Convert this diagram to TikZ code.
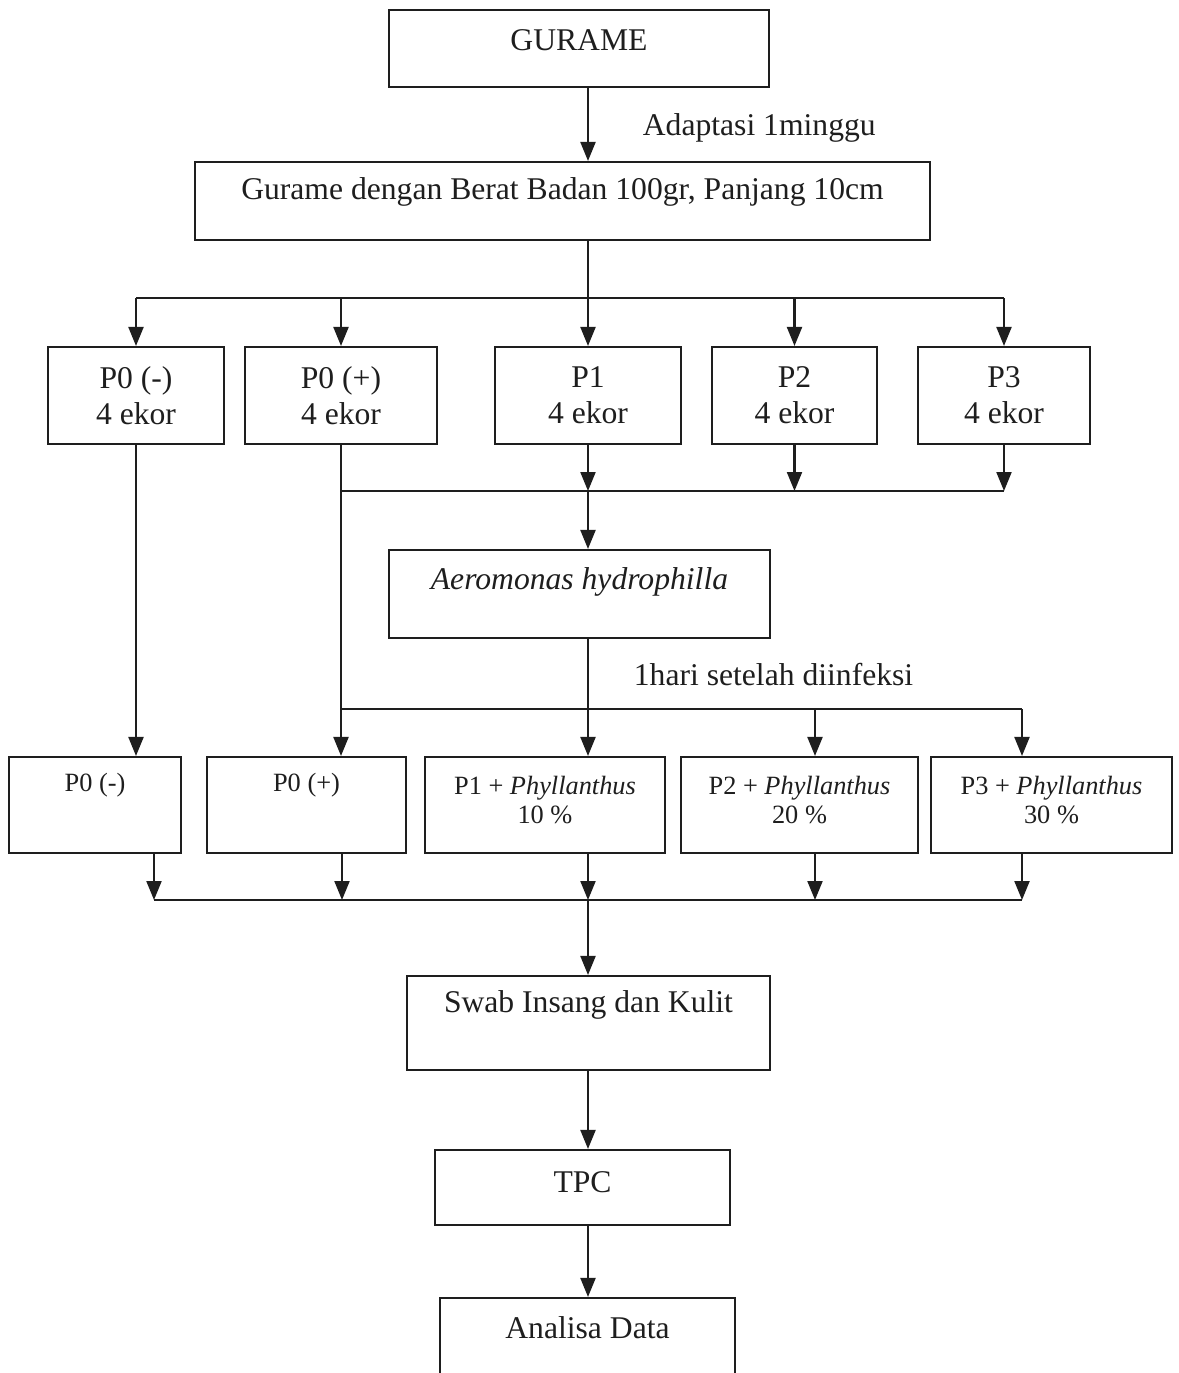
\documentclass[tikz,border=0pt]{standalone}
\usepackage{fontspec}
\setmainfont{Liberation Serif}
\usetikzlibrary{arrows.meta}
\definecolor{ink}{HTML}{1E1E1E}

\begin{document}
\begin{tikzpicture}[x=0.02cm,y=-0.02cm,>={Triangle[length=.38cm,width=.3cm]},
 font=\fontsize{18}{20.5}\selectfont,line width=1.2pt,ink,
 box/.style={draw,inner sep=0pt,align=center},
 small/.style={font=\fontsize{15}{17}\selectfont}]
\useasboundingbox (0,0) rectangle (1178,1373);
% top
\node[box,minimum width=7.6cm,minimum height=1.54cm,label={[yshift=.17cm]center:GURAME}] (gurame) at (579,48.5) {};
\node[box,minimum width=14.7cm,minimum height=1.56cm,label={[yshift=.18cm]center:Gurame dengan Berat Badan 100gr, Panjang 10cm}] (berat) at (562.5,201) {};
\node[anchor=west] (adapt) at (636,128) {Adaptasi 1minggu};
\draw[->] (gurame.south -| 588,0) -- (berat.north -| 588,0);
% kelompok
\foreach \n/\x/\w/\t in {p0n/136/3.52/P0 (-),p0p/341/3.84/P0 (+),p1/588/3.72/P1,p2/794.5/3.3/P2,p3/1004/3.44/P3}
 \node[box,minimum width=\w cm,minimum height=1.94cm] (\n) at (\x,395.5) {\t\\4 ekor};
\coordinate (bus1) at (588,298);
\draw (berat.south -| bus1) -- (bus1) (bus1 -| p0n) -- (bus1 -| p3);
\foreach \n in {p0n,p0p,p1,p2,p3} \draw[->] (bus1 -| \n) -- (\n.north);
% infeksi
\node[box,minimum width=7.62cm,minimum height=1.76cm,label={[yshift=.24cm]center:\textit{Aeromonas hydrophilla}}] (aero) at (579.5,594) {};
\coordinate (bus2) at (588,491);
\draw (bus2 -| p0p) -- (bus2 -| p3);
\foreach \n in {p1,p2,p3} \draw[->] (\n.south) -- (bus2 -| \n);
\draw[->] (bus2) -- (aero.north -| bus2);
\node[anchor=west] (hari) at (627,675) {1hari setelah diinfeksi};
% perlakuan
\node[box,minimum width=3.44cm,minimum height=1.92cm,label={[small,yshift=.4cm]center:P0 (-)}] (q0n) at (95,805) {};
\node[box,minimum width=3.98cm,minimum height=1.92cm,label={[small,yshift=.4cm]center:P0 (+)}] (q0p) at (306.5,805) {};
\node[box,minimum width=4.8cm,minimum height=1.92cm,label={[small,align=center,yshift=.1cm]center:P1 + \textit{Phyllanthus}\\10 \%}] (q1) at (545,805) {};
\node[box,minimum width=4.74cm,minimum height=1.92cm,label={[small,align=center,yshift=.1cm]center:P2 + \textit{Phyllanthus}\\20 \%}] (q2) at (799.5,805) {};
\node[box,minimum width=4.82cm,minimum height=1.92cm,label={[small,align=center,yshift=.1cm]center:P3 + \textit{Phyllanthus}\\30 \%}] (q3) at (1051.5,805) {};
\draw[->] (p0n.south) -- (p0n.south |- q0n.north);
\draw[->] (p0p.south) -- (p0p.south |- q0p.north);
\coordinate (bus3) at (588,709);
\coordinate (bus3e) at (1022,709);
\draw (aero.south -| bus3) -- (bus3) (bus3 -| p0p) -- (bus3e);
\foreach \x/\n in {588/q1,815/q2,1022/q3}{
 \coordinate (c) at (\x,709);
 \draw[->] (c) -- (c |- \n.north);
}
% hasil
\coordinate (bus4w) at (154,900);
\coordinate (bus4e) at (1022,900);
\draw (bus4w) -- (bus4e);
\foreach \x/\n in {154/q0n,342/q0p,588/q1,815/q2,1022/q3}{
 \coordinate (c) at (\x,900);
 \draw[->] (c |- \n.south) -- (c);
}
\node[box,minimum width=7.26cm,minimum height=1.88cm,label={[yshift=.36cm]center:Swab Insang dan Kulit}] (swab) at (588.5,1023) {};
\node[box,minimum width=5.9cm,minimum height=1.5cm,label={[yshift=.11cm]center:TPC}] (tpc) at (582.5,1187.5) {};
\node[box,minimum width=5.9cm,minimum height=1.64cm,label={[yshift=.22cm]center:Analisa Data}] (analisa) at (587.5,1339) {};
\draw[->] (bus4w -| bus1) -- (swab.north -| bus1);
\draw[->] (swab.south -| bus1) -- (tpc.north -| bus1);
\draw[->] (tpc.south -| bus1) -- (analisa.north -| bus1);
\end{tikzpicture}
\end{document}
